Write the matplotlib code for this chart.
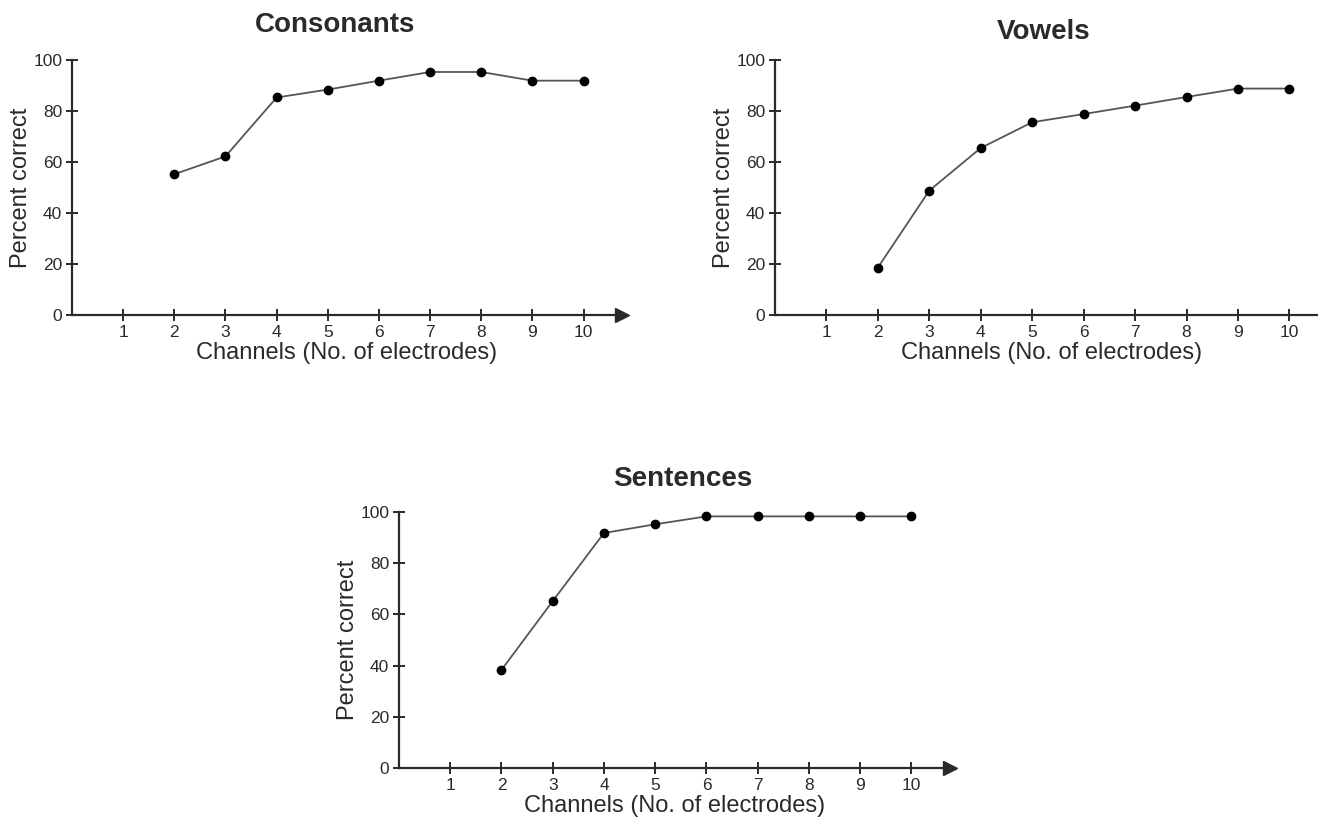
import matplotlib
matplotlib.use("Agg")
import matplotlib.pyplot as plt

plt.rcParams['font.family'] = ['Liberation Sans', 'DejaVu Sans']

# Data
channels = [2, 3, 4, 5, 6, 7, 8, 9, 10]
consonants = [55.2, 62.2, 85.3, 88.4, 91.9, 95.3, 95.3, 91.9, 91.9]
vowels = [18.6, 48.8, 65.5, 75.6, 78.8, 82.1, 85.5, 88.8, 88.8]
sentences = [38.3, 65.2, 91.8, 95.2, 98.3, 98.3, 98.3, 98.3, 98.3]

titles = ['Consonants', 'Vowels', 'Sentences']
series = [consonants, vowels, sentences]
x_ticks = list(range(1, 11))
y_ticks = [0, 20, 40, 60, 80, 100]

fig = plt.figure(figsize=(13.18, 8.22), dpi=100)

# axes rectangles [left, bottom, width, height] in figure fraction
rects = [
    [0.0546, 0.6168, 0.4173, 0.3102],
    [0.5880, 0.6168, 0.4196, 0.3102],
    [0.3027, 0.0657, 0.4180, 0.3114],
]
title_pads = [20, 15, 19]
title_x = [0.478, 0.485, 0.515]

ink = '#2a2a2a'
for rect, title, vals, pad, tx in zip(rects, titles, series, title_pads, title_x):
    ax = fig.add_axes(rect)
    ax.plot(channels, vals, '-', color='#555555', lw=1.3, zorder=2, clip_on=False)
    ax.plot(channels, vals, 'o', color='black', ms=6, zorder=3, clip_on=False)
    ax.set_xlim(0, 10.75)
    ax.set_ylim(0, 100)
    for s in ['top', 'right']:
        ax.spines[s].set_visible(False)
    for s in ['left', 'bottom']:
        ax.spines[s].set_color(ink)
        ax.spines[s].set_linewidth(1.6)
    # arrow head at the end of the x axis
    ax.plot(1, 0, '>', color=ink, ms=10, transform=ax.get_yaxis_transform(),
            clip_on=False)
    ax.set_xticks(x_ticks)
    ax.set_yticks(y_ticks)
    ax.tick_params(direction='inout', length=8, width=1.4, colors=ink,
                   labelsize=12.5, labelcolor=ink, pad=3)
    ax.set_xlabel('Channels (No. of electrodes)', fontsize=17, color=ink,
                  labelpad=2)
    ax.set_ylabel('Percent correct', fontsize=17, color=ink, labelpad=1)
    ax.set_title(title, fontsize=20, fontweight='bold', color=ink, pad=pad, x=tx)

fig.savefig('out.png', dpi=100)
